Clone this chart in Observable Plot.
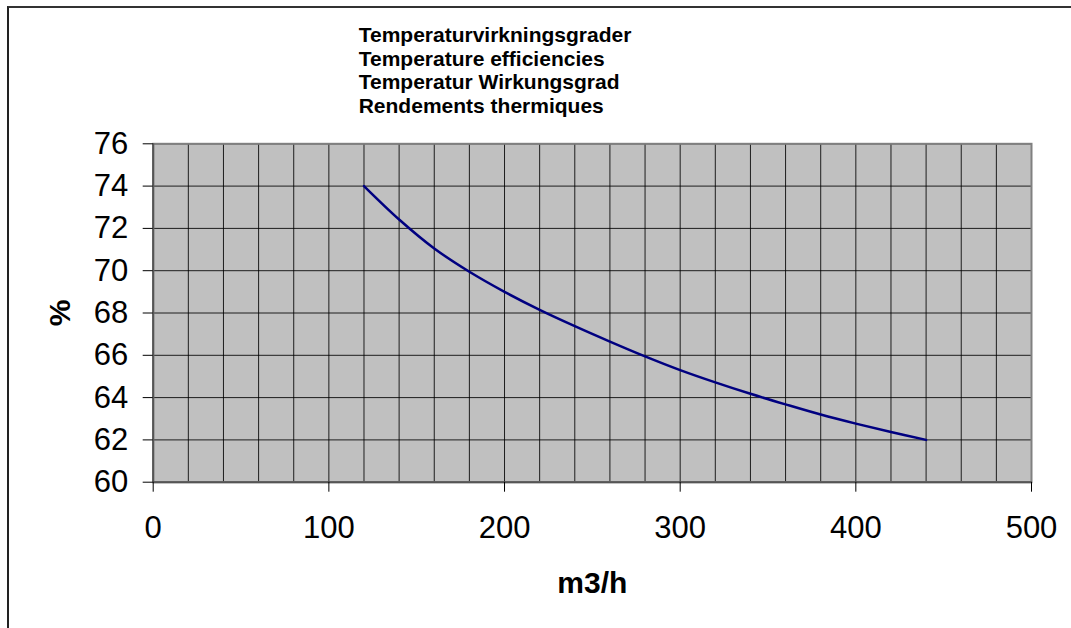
<!DOCTYPE html>
<html>
<head>
<meta charset="utf-8">
<script src="https://cdn.jsdelivr.net/npm/d3@7"></script>
<script src="https://cdn.jsdelivr.net/npm/@observablehq/plot@0.6"></script>
<style>
  html, body { margin: 0; padding: 0; background: #fff; overflow: hidden; }
  #wrap { position: relative; width: 1071px; height: 628px; }
  #border { position: absolute; left: 7px; top: 6px; width: 2000px; height: 2000px;
            border-top: 2px solid #333; border-left: 2px solid #222; box-sizing: border-box; }
  #chart { position: absolute; left: 0; top: 0; }
</style>
</head>
<body>
<div id="wrap"><div id="border"></div><div id="chart"></div></div>
<script>
const titleLines = ["Temperaturvirkningsgrader", "Temperature efficiencies", "Temperatur Wirkungsgrad", "Rendements thermiques"];
const xLabel = "m3/h";
const yLabel = "%";
const flow = [120, 140, 160, 180, 200, 220, 240, 260, 280, 300, 320, 340, 360, 380, 400, 420, 440];
const efficiency = [74.0, 72.42, 71.05, 69.95, 69.0, 68.15, 67.38, 66.65, 65.95, 65.3, 64.72, 64.18, 63.68, 63.2, 62.77, 62.37, 62.0];
const xTicks = [0, 100, 200, 300, 400, 500];
const yTicks = [60, 62, 64, 66, 68, 70, 72, 74, 76];
const xGrid = d3.range(0, 501, 20);

const data = flow.map((f, i) => ({flow: f, eff: efficiency[i]}));

const chart = Plot.plot({
  width: 1071,
  height: 628,
  marginLeft: 152.7,
  marginRight: 40,
  marginTop: 143.3,
  marginBottom: 146.3,
  style: {fontFamily: "Liberation Sans, Arial, sans-serif", color: "black", background: "transparent"},
  x: {domain: [0, 500], ticks: xTicks, tickSize: 10, tickPadding: 24, label: null, tickFormat: d3.format("d")},
  y: {domain: [60, 76], ticks: yTicks, tickSize: 10, tickPadding: 15, label: null, tickFormat: d3.format("d")},
  marks: [
    Plot.frame({fill: "#c0c0c0", stroke: null}),
    Plot.gridX(xGrid, {stroke: "black", strokeOpacity: 0.85, strokeWidth: 1}),
    Plot.gridY(yTicks, {stroke: "black", strokeOpacity: 0.85, strokeWidth: 1}),
    Plot.frame({stroke: "#808080", strokeWidth: 2}),
    Plot.ruleX([0], {stroke: "#555", strokeWidth: 2}),
    Plot.ruleY([60], {stroke: "#555", strokeWidth: 2}),
    Plot.axisX({ticks: xTicks, tickSize: 10, tickPadding: 24, fontSize: 31, label: null, tickFormat: d3.format("d")}),
    Plot.axisY({ticks: yTicks, tickSize: 10, tickPadding: 15, fontSize: 31, label: null, tickFormat: d3.format("d")}),
    Plot.line(data, {x: "flow", y: "eff", stroke: "#000080", strokeWidth: 2.5, curve: "catmull-rom"}),
    Plot.text([titleLines.join("\n")], {frameAnchor: "top-left", textAnchor: "start", lineAnchor: "top",
      lineHeight: 1.125, dx: 205.5, dy: -118.5, fontSize: 21, fontWeight: "bold", fill: "black", text: d => d}),
    Plot.text([yLabel], {frameAnchor: "left", rotate: -90, textAnchor: "middle", lineAnchor: "middle",
      dx: -93, fontSize: 30, fontWeight: "bold", fill: "black", text: d => d}),
    Plot.text([xLabel], {frameAnchor: "bottom", textAnchor: "middle", lineAnchor: "middle",
      dy: 101, fontSize: 30, fontWeight: "bold", fill: "black", text: d => d})
  ]
});
document.getElementById("chart").appendChild(chart);
</script>
</body>
</html>
